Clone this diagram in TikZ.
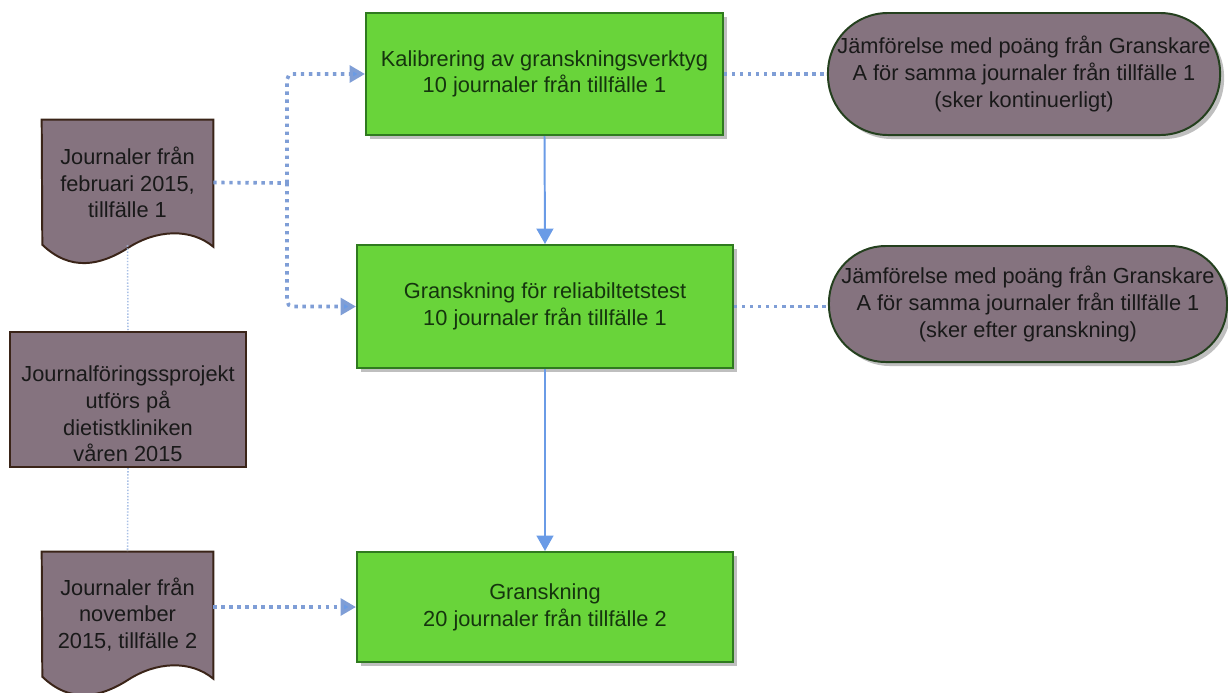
\documentclass[tikz,border=0pt]{standalone}
\usepackage{fontspec}
\setmainfont{Liberation Sans}
\usetikzlibrary{arrows.meta,shadows,backgrounds}

\definecolor{boxgreen}{HTML}{69D43A}
\definecolor{greenline}{HTML}{2F7A1F}
\definecolor{greentext}{HTML}{15350E}
\definecolor{mauve}{HTML}{85737F}
\definecolor{docline}{HTML}{3A2418}
\definecolor{termline}{HTML}{24401E}
\definecolor{flowblue}{HTML}{6A9BE6}
\definecolor{dotblue}{HTML}{7F9ED6}
\definecolor{thinblue}{HTML}{A9C0E6}

\tikzset{
  txt/.style={align=center, font=\fontsize{15.5}{19}\selectfont, inner sep=0pt},
  procbox/.style={txt, draw=greenline, line width=1.4pt, fill=boxgreen, text=greentext,
    drop shadow={shadow xshift=0.1cm, shadow yshift=-0.1cm, fill=black!25, opacity=1}},
  termbox/.style={txt, draw=termline, line width=1.4pt, fill=mauve, text=black!90,
    drop shadow={shadow xshift=0.1cm, shadow yshift=-0.1cm, fill=black!25, opacity=1}},
  docbox/.style={txt, text=black!90, minimum width=4.275cm, minimum height=3.125cm},
  docshape/.style={draw=docline, line width=1.4pt, fill=mauve},
  projbox/.style={draw=docline, line width=1.4pt, fill=mauve, minimum width=5.9cm, minimum height=3.375cm},
  flowarrow/.style={draw=flowblue, line width=1.4pt, -{Triangle[length=11pt, width=12pt]}},
  dotline/.style={draw=dotblue, line width=2.6pt, dash pattern=on 2.4pt off 3.3pt},
  dotarrow/.style={dotline, rounded corners=4pt, -{Triangle[length=11pt, width=12pt, fill=flowblue]}},
  thinline/.style={draw=thinblue, line width=1.1pt, dash pattern=on 1pt off 1.2pt}
}

\begin{document}
\begin{tikzpicture}[x=0.025cm, y=-0.025cm]
\useasboundingbox (0,0) rectangle (1228,692);

\node[procbox, minimum width=8.925cm, minimum height=3.05cm] (kal) at (544.5,74)
  {Kalibrering av granskningsverktyg\\10 journaler från tillfälle 1};
\node[procbox, minimum width=9.4cm, minimum height=3.075cm] (rel) at (545,306.5)
  {Granskning för reliabiltetstest\\10 journaler från tillfälle 1};
\node[procbox, minimum width=9.4cm, minimum height=2.75cm] (gr) at (545,607)
  {Granskning\\20 journaler från tillfälle 2};

\node[termbox, minimum width=9.8cm, minimum height=3.05cm, rounded corners=1.5cm] (cmpa) at (1024,74)
  {Jämförelse med poäng från Granskare\\A för samma journaler från tillfälle 1\\(sker kontinuerligt)};
\node[termbox, minimum width=9.95cm, minimum height=2.9cm, rounded corners=1.42cm] (cmpb) at (1028,304)
  {Jämförelse med poäng från Granskare\\A för samma journaler från tillfälle 1\\(sker efter granskning)};

\node[docbox] (doc1) at (127.5,182.5) {Journaler från\\februari 2015,\\tillfälle 1};
\node[docbox] (doc2) at (127.5,614.5) {Journaler från\\november\\2015, tillfälle 2};

\node[projbox] (proj) at (128,399.5) {};
\node[txt, text=black!90] (projlbl) at (128,414)
  {Journalföringssprojekt\\utförs på\\dietistkliniken\\våren 2015};

\begin{scope}[on background layer]
\foreach \d in {doc1,doc2}
  \draw[docshape] (\d.north west) -- (\d.north east) -- ++(0,127)
    .. controls +(-23,-19) and +(28,-18) .. ++(-85,1)
    .. controls +(-28,18) and +(28,27) .. ++(-86,-3) -- cycle;
\end{scope}

\coordinate (split) at (287,183);
\draw[dotline] (doc1.east) -- (split);
\draw[dotarrow] (split) |- (kal.west);
\draw[dotarrow] (split) |- (rel.west);
\draw[dotarrow] (doc2.east |- gr.west) -- (gr.west);
\draw[dotline] (kal.east) -- (kal.east -| cmpa.west);
\draw[dotline] (rel.east) -- (rel.east -| cmpb.west);

\draw[flowarrow] (kal.south) -- (rel.north);
\draw[flowarrow] (rel.south) -- (gr.north);

\draw[thinline] (doc1.south) -- (proj.north);
\draw[thinline] (proj.south) -- (doc2.north);
\end{tikzpicture}
\end{document}
